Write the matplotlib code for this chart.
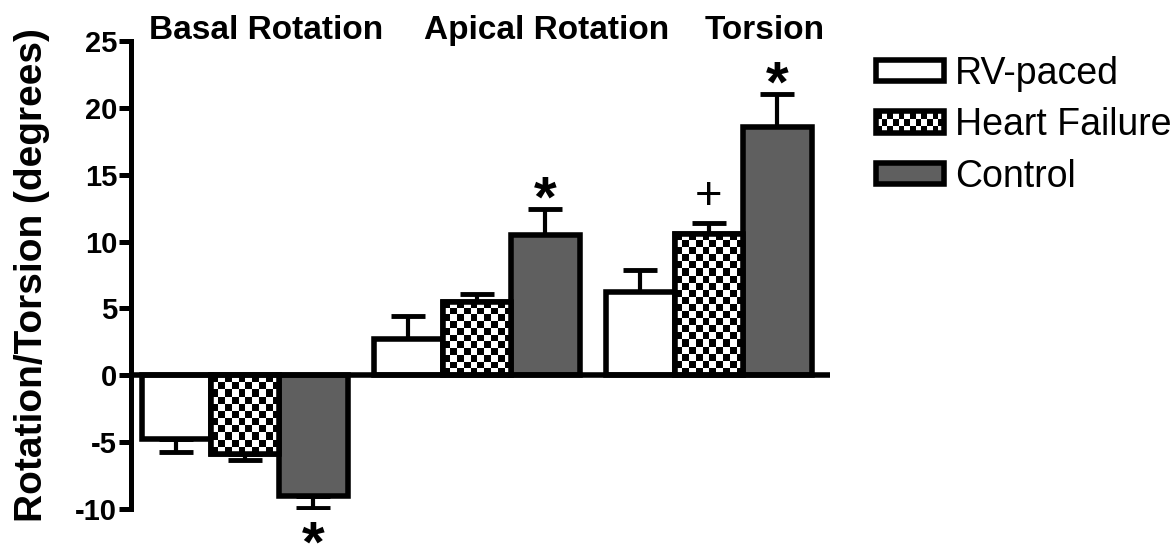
import numpy as np
import matplotlib
matplotlib.use("Agg")
import matplotlib.pyplot as plt
from matplotlib.patches import Patch, Rectangle
from matplotlib.legend_handler import HandlerBase

groups = ["Basal Rotation", "Apical Rotation", "Torsion"]
series = ["RV-paced", "Heart Failure", "Control"]

rv_paced = [-4.8, 2.7, 6.2]
rv_paced_err = [0.9, 1.7, 1.7]
heart_failure = [-5.9, 5.5, 10.6]
heart_failure_err = [0.4, 0.6, 0.8]
control = [-9.0, 10.5, 18.6]
control_err = [0.9, 1.9, 2.4]

# significance marks: group index, series index, symbol
mark_group = [0, 1, 2, 2]
mark_series = [2, 2, 1, 2]
mark_symbol = ["*", "*", "+", "*"]

yticks = [-10, -5, 0, 5, 10, 15, 20, 25]

plt.rcParams["font.family"] = ["Liberation Sans", "DejaVu Sans"]

fills = ["white", "white", "#5f5f5f"]
edge_lw = 4
w = 0.295


class CheckerHandler(HandlerBase):
    def create_artists(self, legend, orig_handle, xdescent, ydescent,
                       width, height, fontsize, trans):
        arts = []
        nx, ny = 12, 3
        cw, ch = width / nx, height / ny
        for i in range(nx):
            for j in range(ny):
                if (i + j) % 2 == 0:
                    arts.append(Rectangle((-xdescent + i * cw, -ydescent + j * ch), cw, ch,
                                          facecolor="black", edgecolor="none", transform=trans))
        arts.append(Rectangle((-xdescent, -ydescent), width, height, facecolor="none",
                              edgecolor="black", lw=edge_lw, transform=trans))
        return arts


fig = plt.figure(figsize=(11.74, 5.46), dpi=100)
ax = fig.add_axes([131 / 1174, 37 / 546, 699 / 1174, 468 / 546])

data = [(rv_paced, rv_paced_err), (heart_failure, heart_failure_err), (control, control_err)]
xpos = []
for i, (vals, errs) in enumerate(data):
    x = np.arange(len(groups)) + (i - 1) * w
    xpos.append(x)
    bars = ax.bar(x, vals, w, color=fills[i], edgecolor="black", linewidth=edge_lw, zorder=2)
    lower = [e if v < 0 else 0 for v, e in zip(vals, errs)]
    upper = [e if v > 0 else 0 for v, e in zip(vals, errs)]
    ax.errorbar(x, vals, yerr=[lower, upper], fmt="none", ecolor="black",
                elinewidth=3, capsize=12.5, capthick=3.5, zorder=1)
    if series[i] == "Heart Failure":
        for b, v in zip(bars, vals):
            ny = max(2, int(round(abs(v) * 13.37 / 7)))
            nx = 10
            checker = np.indices((ny, nx)).sum(axis=0) % 2
            x0 = b.get_x()
            im = ax.imshow(checker, cmap="gray", extent=[x0, x0 + w, min(0, v), max(0, v)],
                           aspect="auto", interpolation="nearest", zorder=2.1)
            im.set_clip_path(b)
        ax.bar(x, vals, w, facecolor="none", edgecolor="black", linewidth=edge_lw, zorder=2.2)

ax.axhline(0, color="black", lw=edge_lw, zorder=4)

for g, s, sym in zip(mark_group, mark_series, mark_symbol):
    v = data[s][0][g]
    e = data[s][1][g]
    end = v - e if v < 0 else v + e
    if sym == "*":
        dy = -39 if v < 0 else -5
        ax.annotate(sym, (xpos[s][g], end), xytext=(0, dy), textcoords="offset points",
                    ha="center", va="baseline", fontsize=42, fontweight="bold",
                    annotation_clip=False)
    else:
        ax.annotate(sym, (xpos[s][g], end), xytext=(0, 10), textcoords="offset points",
                    ha="center", va="baseline", fontsize=34, annotation_clip=False)

title_x = [0.09, 1.30, 2.24]
for tx, name in zip(title_x, groups):
    ax.text(tx, 25.8, name, ha="center", va="center", fontsize=24, fontweight="bold",
            clip_on=False)

ax.set_xlim(-0.491, 2.522)
ax.set_ylim(-10, 25)
ax.set_yticks(yticks)
ax.set_yticklabels([str(t) for t in yticks], fontsize=21, fontweight="bold")
ax.set_xticks([])
for side in ["top", "right", "bottom"]:
    ax.spines[side].set_visible(False)
ax.spines["left"].set_linewidth(3.6)
ax.tick_params(axis="y", width=3.6, length=9, pad=1)
ax.set_ylabel("Rotation/Torsion (degrees)", fontsize=28, fontweight="bold")
ax.yaxis.set_label_coords(-0.116, 0.5)

handles = [Patch(facecolor=fills[0], edgecolor="black", lw=edge_lw),
           Patch(facecolor="white", edgecolor="black", lw=edge_lw),
           Patch(facecolor=fills[2], edgecolor="black", lw=edge_lw)]
fig.legend(handles, series, loc="upper left", bbox_to_anchor=(876 / 1174, 1 - 56 / 546),
           frameon=False, fontsize=27, handlelength=1.81, handleheight=0.5,
           labelspacing=0.41, handletextpad=0.3, borderpad=0, borderaxespad=0,
           handler_map={handles[1]: CheckerHandler()})

fig.savefig("out.png", dpi=100)
